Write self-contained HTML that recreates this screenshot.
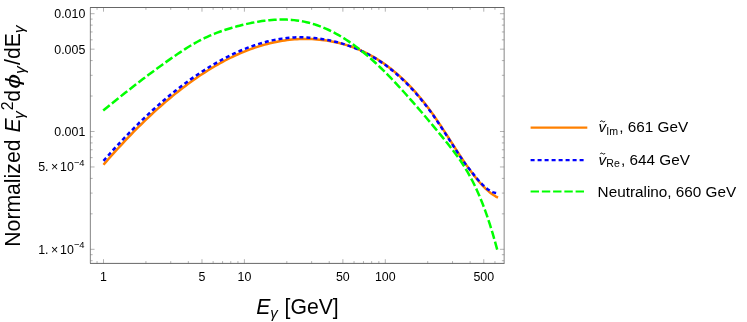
<!DOCTYPE html>
<html><head><meta charset="utf-8"><title>plot</title>
<style>html,body{margin:0;padding:0;background:#fff;width:747px;height:322px;overflow:hidden}</style>
</head><body>
<svg width="747" height="322" viewBox="0 0 747 322" style="position:absolute;left:0;top:0;will-change:transform;font-family:'Liberation Sans',sans-serif">
<rect width="747" height="322" fill="#fff"/>
<clipPath id="c"><rect x="90.35" y="7.5" width="413.79999999999995" height="255.89999999999998"/></clipPath>
<g fill="none" stroke-width="2.5" stroke-linejoin="round" clip-path="url(#c)">
<path d="M103.50,164.73 L105.98,161.87 L108.46,159.04 L110.94,156.23 L113.42,153.45 L115.91,150.70 L118.39,147.97 L120.87,145.28 L123.35,142.61 L125.83,139.98 L128.31,137.37 L130.79,134.79 L133.27,132.24 L135.75,129.72 L138.24,127.23 L140.72,124.78 L143.20,122.35 L145.68,119.95 L148.16,117.58 L150.64,115.25 L153.12,112.94 L155.60,110.67 L158.08,108.43 L160.57,106.22 L163.05,104.04 L165.53,101.89 L168.01,99.78 L170.49,97.70 L172.97,95.65 L175.45,93.63 L177.93,91.65 L180.42,89.70 L182.90,87.78 L185.38,85.90 L187.86,84.05 L190.34,82.24 L192.82,80.46 L195.30,78.71 L197.78,77.00 L200.26,75.32 L202.75,73.68 L205.23,72.08 L207.71,70.51 L210.19,68.97 L212.67,67.47 L215.15,66.01 L217.63,64.58 L220.11,63.19 L222.59,61.84 L225.08,60.52 L227.56,59.24 L230.04,58.00 L232.52,56.79 L235.00,55.62 L237.48,54.49 L239.96,53.40 L242.44,52.34 L244.92,51.33 L247.41,50.35 L249.89,49.41 L252.37,48.51 L254.85,47.65 L257.33,46.83 L259.81,46.05 L262.29,45.31 L264.77,44.60 L267.25,43.94 L269.74,43.32 L272.22,42.74 L274.70,42.20 L277.18,41.70 L279.66,41.24 L282.14,40.82 L284.62,40.44 L287.10,40.11 L289.58,39.82 L292.07,39.57 L294.55,39.36 L297.03,39.19 L299.51,39.07 L301.99,38.99 L304.47,38.95 L306.95,38.95 L309.43,39.00 L311.92,39.09 L314.40,39.23 L316.88,39.41 L319.36,39.63 L321.84,39.90 L324.32,40.22 L326.80,40.57 L329.28,40.98 L331.76,41.43 L334.25,41.92 L336.73,42.46 L339.21,43.05 L341.69,43.69 L344.17,44.38 L346.65,45.13 L349.13,45.93 L351.61,46.78 L354.09,47.69 L356.58,48.66 L359.06,49.69 L361.54,50.78 L364.02,51.93 L366.50,53.14 L368.98,54.42 L371.46,55.77 L373.94,57.19 L376.42,58.67 L378.91,60.22 L381.39,61.85 L383.87,63.55 L386.35,65.32 L388.83,67.17 L391.31,69.10 L393.79,71.11 L396.27,73.19 L398.75,75.36 L401.24,77.61 L403.72,79.94 L406.20,82.36 L408.68,84.87 L411.16,87.47 L413.64,90.15 L416.12,92.93 L418.60,95.81 L421.08,98.77 L423.57,101.84 L426.05,105.00 L428.53,108.27 L431.01,111.63 L433.49,115.10 L435.97,118.67 L438.45,122.33 L440.93,126.06 L443.42,129.85 L445.90,133.68 L448.38,137.54 L450.86,141.41 L453.34,145.28 L455.82,149.14 L458.30,152.96 L460.78,156.74 L463.26,160.45 L465.75,164.09 L468.23,167.64 L470.71,171.07 L473.19,174.39 L475.67,177.57 L478.15,180.60 L480.63,183.46 L483.11,186.14 L485.59,188.62 L488.08,190.89 L490.56,192.93 L493.04,194.73 L495.52,196.27 L498.00,197.54" stroke="#ff8000"/>
<path d="M103.50,160.83 L105.98,158.01 L108.46,155.21 L110.94,152.43 L113.41,149.69 L115.89,146.97 L118.37,144.29 L120.85,141.63 L123.33,139.00 L125.81,136.40 L128.29,133.83 L130.76,131.29 L133.24,128.78 L135.72,126.29 L138.20,123.84 L140.68,121.42 L143.16,119.03 L145.64,116.67 L148.12,114.35 L150.59,112.05 L153.07,109.79 L155.55,107.56 L158.03,105.36 L160.51,103.19 L162.99,101.05 L165.47,98.94 L167.94,96.87 L170.42,94.82 L172.90,92.81 L175.38,90.83 L177.86,88.88 L180.34,86.96 L182.82,85.08 L185.29,83.23 L187.77,81.41 L190.25,79.63 L192.73,77.88 L195.21,76.16 L197.69,74.48 L200.17,72.83 L202.64,71.21 L205.12,69.62 L207.60,68.06 L210.08,66.54 L212.56,65.05 L215.04,63.59 L217.52,62.17 L219.99,60.78 L222.47,59.43 L224.95,58.12 L227.43,56.84 L229.91,55.60 L232.39,54.39 L234.87,53.23 L237.35,52.10 L239.82,51.01 L242.30,49.95 L244.78,48.94 L247.26,47.96 L249.74,47.03 L252.22,46.13 L254.70,45.27 L257.17,44.45 L259.65,43.67 L262.13,42.94 L264.61,42.24 L267.09,41.58 L269.57,40.97 L272.05,40.40 L274.52,39.88 L277.00,39.42 L279.48,38.99 L281.96,38.62 L284.44,38.29 L286.92,38.01 L289.40,37.77 L291.87,37.58 L294.35,37.43 L296.83,37.33 L299.31,37.29 L301.79,37.31 L304.27,37.39 L306.75,37.51 L309.23,37.67 L311.70,37.85 L314.18,38.08 L316.66,38.34 L319.14,38.65 L321.62,39.00 L324.10,39.39 L326.58,39.83 L329.05,40.31 L331.53,40.83 L334.01,41.40 L336.49,42.02 L338.97,42.69 L341.45,43.40 L343.93,44.16 L346.40,44.97 L348.88,45.82 L351.36,46.72 L353.84,47.67 L356.32,48.67 L358.80,49.73 L361.28,50.85 L363.75,52.02 L366.23,53.26 L368.71,54.57 L371.19,55.94 L373.67,57.37 L376.15,58.88 L378.63,60.45 L381.11,62.10 L383.58,63.82 L386.06,65.61 L388.54,67.48 L391.02,69.41 L393.50,71.43 L395.98,73.52 L398.46,75.69 L400.93,77.93 L403.41,80.26 L405.89,82.68 L408.37,85.18 L410.85,87.77 L413.33,90.45 L415.81,93.22 L418.28,96.08 L420.76,99.04 L423.24,102.09 L425.72,105.25 L428.20,108.50 L430.68,111.85 L433.16,115.30 L435.63,118.86 L438.11,122.51 L440.59,126.23 L443.07,130.01 L445.55,133.83 L448.03,137.69 L450.51,141.56 L452.98,145.43 L455.46,149.28 L457.94,153.11 L460.42,156.89 L462.90,160.49 L465.38,163.92 L467.86,167.15 L470.34,170.25 L472.81,173.39 L475.29,176.48 L477.77,179.48 L480.25,182.29 L482.73,184.85 L485.21,187.15 L487.69,189.17 L490.16,190.85 L492.64,192.07 L495.12,192.86 L497.60,193.31" stroke="#0000ff" stroke-dasharray="4 3"/>
<path d="M103.20,110.51 L105.68,108.49 L108.16,106.48 L110.64,104.48 L113.12,102.48 L115.60,100.49 L118.08,98.50 L120.55,96.52 L123.03,94.55 L125.51,92.59 L127.99,90.64 L130.47,88.69 L132.95,86.75 L135.43,84.83 L137.91,82.91 L140.39,81.01 L142.87,79.11 L145.35,77.23 L147.83,75.36 L150.31,73.50 L152.78,71.65 L155.26,69.82 L157.74,68.00 L160.22,66.20 L162.70,64.41 L165.18,62.63 L167.66,60.87 L170.14,59.12 L172.62,57.39 L175.10,55.68 L177.58,54.00 L180.06,52.34 L182.54,50.71 L185.02,49.12 L187.49,47.56 L189.97,46.04 L192.45,44.56 L194.93,43.13 L197.41,41.76 L199.89,40.43 L202.37,39.16 L204.85,37.95 L207.33,36.79 L209.81,35.68 L212.29,34.63 L214.77,33.62 L217.25,32.65 L219.72,31.73 L222.20,30.85 L224.68,30.01 L227.16,29.21 L229.64,28.44 L232.12,27.71 L234.60,27.01 L237.08,26.33 L239.56,25.69 L242.04,25.06 L244.52,24.47 L247.00,23.89 L249.48,23.35 L251.95,22.84 L254.43,22.35 L256.91,21.90 L259.39,21.49 L261.87,21.10 L264.35,20.76 L266.83,20.46 L269.31,20.19 L271.79,19.97 L274.27,19.79 L276.75,19.66 L279.23,19.57 L281.71,19.53 L284.18,19.55 L286.66,19.61 L289.14,19.73 L291.62,19.90 L294.10,20.13 L296.58,20.42 L299.06,20.76 L301.54,21.17 L304.02,21.64 L306.50,22.18 L308.98,22.78 L311.46,23.45 L313.94,24.18 L316.42,24.99 L318.89,25.86 L321.37,26.80 L323.85,27.80 L326.33,28.87 L328.81,30.01 L331.29,31.21 L333.77,32.47 L336.25,33.80 L338.73,35.19 L341.21,36.65 L343.69,38.16 L346.17,39.74 L348.65,41.38 L351.12,43.08 L353.60,44.84 L356.08,46.66 L358.56,48.53 L361.04,50.47 L363.52,52.47 L366.00,54.52 L368.48,56.63 L370.96,58.80 L373.44,61.02 L375.92,63.29 L378.40,65.62 L380.88,68.00 L383.35,70.42 L385.83,72.90 L388.31,75.41 L390.79,77.96 L393.27,80.56 L395.75,83.18 L398.23,85.85 L400.71,88.54 L403.19,91.27 L405.67,94.02 L408.15,96.80 L410.63,99.61 L413.11,102.43 L415.58,105.28 L418.06,108.14 L420.54,111.01 L423.02,113.90 L425.50,116.80 L427.98,119.72 L430.46,122.66 L432.94,125.61 L435.42,128.59 L437.90,131.58 L440.38,134.59 L442.86,137.63 L445.34,140.69 L447.82,143.78 L450.29,146.91 L452.77,150.10 L455.25,153.38 L457.73,156.78 L460.21,160.33 L462.69,164.05 L465.17,167.98 L467.65,172.14 L470.13,176.56 L472.61,181.27 L475.09,186.29 L477.57,191.66 L480.05,197.41 L482.52,203.55 L485.00,210.12 L487.48,217.15 L489.96,224.66 L492.44,232.68 L494.92,241.25 L497.40,250.38" stroke="#00ff00" stroke-dasharray="8.4 2.85"/>
</g>
<g fill="none" stroke="#666">
<path d="M90.05,7.5 H504.45 M90.05,263.4 H504.45" stroke-width="1.0"/>
<path d="M90.35,7.5 V263.4 M504.15,7.5 V263.4" stroke-width="0.8"/>
<path d="M97.05,263.4 v-2.3 M97.05,7.5 v2.3 M103.50,263.4 v-4.2 M103.50,7.5 v4.2 M145.92,263.4 v-2.3 M145.92,7.5 v2.3 M170.73,263.4 v-2.3 M170.73,7.5 v2.3 M188.33,263.4 v-2.3 M188.33,7.5 v2.3 M201.98,263.4 v-4.2 M201.98,7.5 v4.2 M213.14,263.4 v-2.3 M213.14,7.5 v2.3 M222.57,263.4 v-2.3 M222.57,7.5 v2.3 M230.75,263.4 v-2.3 M230.75,7.5 v2.3 M237.95,263.4 v-2.3 M237.95,7.5 v2.3 M244.40,263.4 v-4.2 M244.40,7.5 v4.2 M286.82,263.4 v-2.3 M286.82,7.5 v2.3 M311.63,263.4 v-2.3 M311.63,7.5 v2.3 M329.23,263.4 v-2.3 M329.23,7.5 v2.3 M342.88,263.4 v-4.2 M342.88,7.5 v4.2 M354.04,263.4 v-2.3 M354.04,7.5 v2.3 M363.47,263.4 v-2.3 M363.47,7.5 v2.3 M371.65,263.4 v-2.3 M371.65,7.5 v2.3 M378.85,263.4 v-2.3 M378.85,7.5 v2.3 M385.30,263.4 v-4.2 M385.30,7.5 v4.2 M427.72,263.4 v-2.3 M427.72,7.5 v2.3 M452.53,263.4 v-2.3 M452.53,7.5 v2.3 M470.13,263.4 v-2.3 M470.13,7.5 v2.3 M483.78,263.4 v-4.2 M483.78,7.5 v4.2 M494.94,263.4 v-2.3 M494.94,7.5 v2.3 M90.35,260.72 h2.3 M504.15,260.72 h-2.3 M90.35,254.69 h2.3 M504.15,254.69 h-2.3 M90.35,249.30 h4.2 M504.15,249.30 h-4.2 M90.35,213.84 h2.3 M504.15,213.84 h-2.3 M90.35,193.10 h2.3 M504.15,193.10 h-2.3 M90.35,178.38 h2.3 M504.15,178.38 h-2.3 M90.35,166.96 h4.2 M504.15,166.96 h-4.2 M90.35,157.63 h2.3 M504.15,157.63 h-2.3 M90.35,149.75 h2.3 M504.15,149.75 h-2.3 M90.35,142.92 h2.3 M504.15,142.92 h-2.3 M90.35,136.89 h2.3 M504.15,136.89 h-2.3 M90.35,131.50 h4.2 M504.15,131.50 h-4.2 M90.35,96.04 h2.3 M504.15,96.04 h-2.3 M90.35,75.30 h2.3 M504.15,75.30 h-2.3 M90.35,60.58 h2.3 M504.15,60.58 h-2.3 M90.35,49.16 h4.2 M504.15,49.16 h-4.2 M90.35,39.83 h2.3 M504.15,39.83 h-2.3 M90.35,31.95 h2.3 M504.15,31.95 h-2.3 M90.35,25.12 h2.3 M504.15,25.12 h-2.3 M90.35,19.09 h2.3 M504.15,19.09 h-2.3 M90.35,13.70 h4.2 M504.15,13.70 h-4.2" stroke-width="0.5"/>
</g>
<g font-size="12.4" fill="#000">
<text x="103.50" y="281.3" text-anchor="middle">1</text>
<text x="201.98" y="281.3" text-anchor="middle">5</text>
<text x="244.40" y="281.3" text-anchor="middle">10</text>
<text x="342.88" y="281.3" text-anchor="middle">50</text>
<text x="385.30" y="281.3" text-anchor="middle">100</text>
<text x="483.78" y="281.3" text-anchor="middle">500</text>
<text x="85.3" y="18.15" text-anchor="end">0.010</text>
<text x="85.3" y="53.61" text-anchor="end">0.005</text>
<text x="85.3" y="135.95" text-anchor="end">0.001</text>
<text x="84.6" y="171.41" text-anchor="end">5.<tspan dx="2.4">×</tspan><tspan dx="1.9">10</tspan><tspan font-size="9.4" dy="-5.5">−4</tspan></text>
<text x="84.6" y="253.75" text-anchor="end">1.<tspan dx="2.4">×</tspan><tspan dx="1.9">10</tspan><tspan font-size="9.4" dy="-5.5">−4</tspan></text>
</g>
<text x="256.2" y="313.8" font-size="21.2" fill="#000"><tspan font-style="italic">E</tspan><tspan font-style="italic" font-size="15.05" dy="3.9">γ</tspan><tspan dy="-3.9" dx="0.8"> [GeV]</tspan></text>
<g transform="translate(20.2,246.7) rotate(-90)" font-size="21.2" fill="#000">
<text x="0" y="0">Normalized</text>
<text x="114.3" y="0" font-style="italic">E</text>
<text x="127.9" y="4.0" font-style="italic" font-size="15.05">γ</text>
<text x="136.4" y="-7.2" font-size="15.90">2</text>
<text x="144.9" y="0">d</text>
<text transform="translate(158.0,0) scale(1.25,0.95)" font-style="italic">ϕ</text>
<text x="172.85" y="5.0" font-style="italic" font-size="15.05">γ</text>
<text x="181.72" y="0">/dE</text>
<text x="213.68" y="4.0" font-style="italic" font-size="15.05">γ</text>
</g>
<g fill="none" stroke-width="2.2">
<path d="M530.6,127.7 H587.3" stroke="#ff8000"/>
<path d="M530.6,160.1 H584.2" stroke="#0000ff" stroke-dasharray="4 3"/>
<path d="M530.6,191.5 H584.2" stroke="#00ff00" stroke-dasharray="8.4 2.85"/>
</g>
<g font-size="15.3" fill="#000">
<text x="598.6" y="132.3"><tspan font-style="italic">v</tspan><tspan font-size="10.6" dy="2.3">Im</tspan><tspan dy="-2.3" dx="1.2">, 661 GeV</tspan></text>
<path d="M600.3,121.90 C600.9,120.50 601.9,120.70 602.65,121.40 S604.4,122.30 605,120.90" fill="none" stroke="#000" stroke-width="1.0"/>
<text x="598.6" y="164.5"><tspan font-style="italic">v</tspan><tspan font-size="10.6" dy="2.3">Re</tspan><tspan dy="-2.3" dx="1.2">, 644 GeV</tspan></text>
<path d="M600.3,154.10 C600.9,152.70 601.9,152.90 602.65,153.60 S604.4,154.50 605,153.10" fill="none" stroke="#000" stroke-width="1.0"/>
<text x="597.6" y="196.9">Neutralino, 660 GeV</text>
</g>
</svg>
</body></html>
